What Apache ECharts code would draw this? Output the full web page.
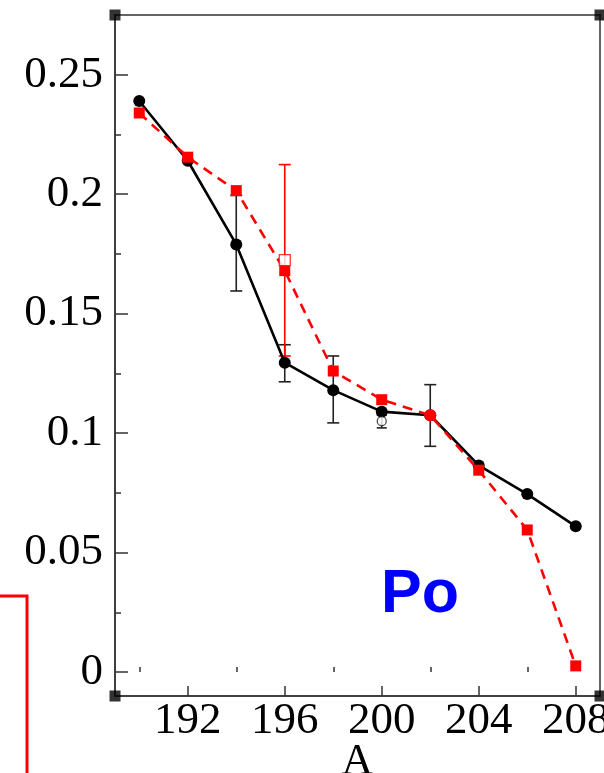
<!DOCTYPE html>
<html>
<head>
<meta charset="utf-8">
<script src="https://cdn.jsdelivr.net/npm/echarts@6/dist/echarts.min.js"></script>
<style>
html,body{margin:0;padding:0;background:#fff;}
#chart{width:604px;height:773px;}
</style>
</head>
<body>
<div id="chart"></div>
<script>
// ---- data ----
var massNumbers = [190, 192, 194, 196, 198, 200, 202, 204, 206, 208];
var blackValues = [0.239, 0.214, 0.179, 0.1295, 0.118, 0.109, 0.1075, 0.0865, 0.0745, 0.061];
var redValues   = [0.234, 0.2155, 0.2015, 0.168, 0.126, 0.114, 0.1075, 0.0845, 0.0595, 0.0026];
// error bars: [x, low, high]
var blackErrors = [[194, 0.1595, 0.1995], [196, 0.1215, 0.137], [198, 0.1043, 0.1323], [202, 0.0945, 0.1203]];
var openCircle  = [[200, 0.105]];
var openCircleErrors = [[200, 0.1022, 0.1075]];
var openSquare  = [[196, 0.1724]];
var openSquareErrors = [[196, 0.1323, 0.2124]];
var xMajorTicks = [192, 196, 200, 204, 208];
var xMinorTicks = [190, 194, 198, 202, 206];
var yMajorTicks = [0, 0.05, 0.1, 0.15, 0.2, 0.25];
var yMinorTicks = [0.025, 0.075, 0.125, 0.175, 0.225];
var xRange = [189, 209];
var yRange = [-0.01, 0.275];
var elementLabel = 'Po';
var xAxisName = 'A';

var chart = echarts.init(document.getElementById('chart'));
var serif = '"Liberation Serif", "Times New Roman", serif';

function errRender(color, cap) {
  return function (params, api) {
    var x = api.value(0);
    var lo = api.coord([x, api.value(1)]);
    var hi = api.coord([x, api.value(2)]);
    var st = {stroke: color, lineWidth: 1.6};
    return {
      type: 'group',
      children: [
        {type: 'line', shape: {x1: lo[0], y1: lo[1], x2: hi[0], y2: hi[1]}, style: st},
        {type: 'line', shape: {x1: lo[0] - cap, y1: lo[1], x2: lo[0] + cap, y2: lo[1]}, style: st},
        {type: 'line', shape: {x1: hi[0] - cap, y1: hi[1], x2: hi[0] + cap, y2: hi[1]}, style: st}
      ]
    };
  };
}

var corners = [[xRange[0], yRange[0]], [xRange[1], yRange[0]], [xRange[0], yRange[1]], [xRange[1], yRange[1]]];

var redData = massNumbers.map(function (m, i) {
  var item = {value: [m, redValues[i]]};
  if (m === 202) { item.symbol = 'circle'; item.symbolSize = 12; }
  return item;
});

var option = {
  animation: false,
  backgroundColor: '#fff',
  grid: {left: 115, right: 4, top: 15, bottom: 77, outerBoundsMode: 'none', containLabel: false,
    show: true, borderColor: '#333', borderWidth: 1.5, backgroundColor: 'transparent'},
  xAxis: [{
    type: 'value', min: xRange[0], max: xRange[1], position: 'bottom',
    name: xAxisName, nameLocation: 'middle', nameGap: 44, nameMoveOverlap: false,
    nameTextStyle: {fontFamily: serif, fontSize: 44, color: '#000', verticalAlign: 'top'},
    axisLine: {show: true, onZero: false, lineStyle: {color: '#333', width: 1.5}},
    axisTick: {show: true, inside: true, length: 10, customValues: xMajorTicks, lineStyle: {color: '#333', width: 1.5}},
    axisLabel: {show: true, customValues: xMajorTicks, margin: 3, fontFamily: serif, fontSize: 45, color: '#000'},
    splitLine: {show: false}
  }, {
    type: 'value', min: xRange[0], max: xRange[1], position: 'bottom',
    axisLine: {show: false},
    axisTick: {show: true, inside: true, length: 5, customValues: xMinorTicks, lineStyle: {color: '#333', width: 1.5}},
    axisLabel: {show: false},
    splitLine: {show: false}
  }],
  yAxis: [{
    type: 'value', min: yRange[0], max: yRange[1], position: 'left',
    axisLine: {show: true, onZero: false, lineStyle: {color: '#333', width: 1.5}},
    axisTick: {show: true, inside: true, length: 13, customValues: yMajorTicks, lineStyle: {color: '#333', width: 1.5}},
    axisLabel: {show: true, customValues: yMajorTicks, margin: 12, fontFamily: serif, fontSize: 45, color: '#000',
      formatter: function (v) { return String(+(+v).toFixed(3)); }},
    splitLine: {show: false}
  }, {
    type: 'value', min: yRange[0], max: yRange[1], position: 'left',
    axisLine: {show: false},
    axisTick: {show: true, inside: true, length: 6, customValues: yMinorTicks, lineStyle: {color: '#333', width: 1.5}},
    axisLabel: {show: false},
    splitLine: {show: false}
  }],
  graphic: [
    {type: 'polyline', shape: {points: [[0, 596], [27, 596], [27, 773]]}, style: {stroke: '#ff0000', lineWidth: 3, fill: null}},
    {type: 'text', left: 381, top: 565, style: {text: elementLabel, fontFamily: '"Liberation Sans", Arial, sans-serif', fontWeight: 'bold', fontSize: 61, fill: '#0000ff'}}
  ],
  series: [
    {type: 'custom', name: 'blackErr', renderItem: errRender('#222', 6), data: blackErrors, z: 2, silent: true},
    {type: 'custom', name: 'openCircleErr', renderItem: errRender('#222', 5), data: openCircleErrors, z: 2, silent: true},
    {type: 'custom', name: 'openSquareErr', renderItem: errRender('#ff0000', 6), data: openSquareErrors, z: 2, silent: true},
    {type: 'line', name: 'black', data: massNumbers.map(function (m, i) { return [m, blackValues[i]]; }),
      symbol: 'circle', symbolSize: 12, showSymbol: true,
      itemStyle: {color: '#000'}, lineStyle: {color: '#000', width: 2.6}, z: 3},
    {type: 'scatter', name: 'openCircle', data: openCircle, symbol: 'circle', symbolSize: 9,
      itemStyle: {color: '#fff', borderColor: '#222', borderWidth: 1.3}, z: 4},
    {type: 'line', name: 'red', data: redData,
      symbol: 'rect', symbolSize: 11, showSymbol: true,
      itemStyle: {color: '#ff0000'}, lineStyle: {color: '#ff0000', width: 2.6, type: [10, 7]}, z: 5},
    {type: 'scatter', name: 'openSquare', data: openSquare, symbol: 'rect', symbolSize: 11,
      itemStyle: {color: '#fff', borderColor: '#ff0000', borderWidth: 1.3}, z: 6},
    {type: 'scatter', name: 'corners', data: corners, symbol: 'rect', symbolSize: 11, clip: false,
      itemStyle: {color: '#000'}, z: 7, silent: true}
  ]
};
chart.setOption(option);
</script>
</body>
</html>
